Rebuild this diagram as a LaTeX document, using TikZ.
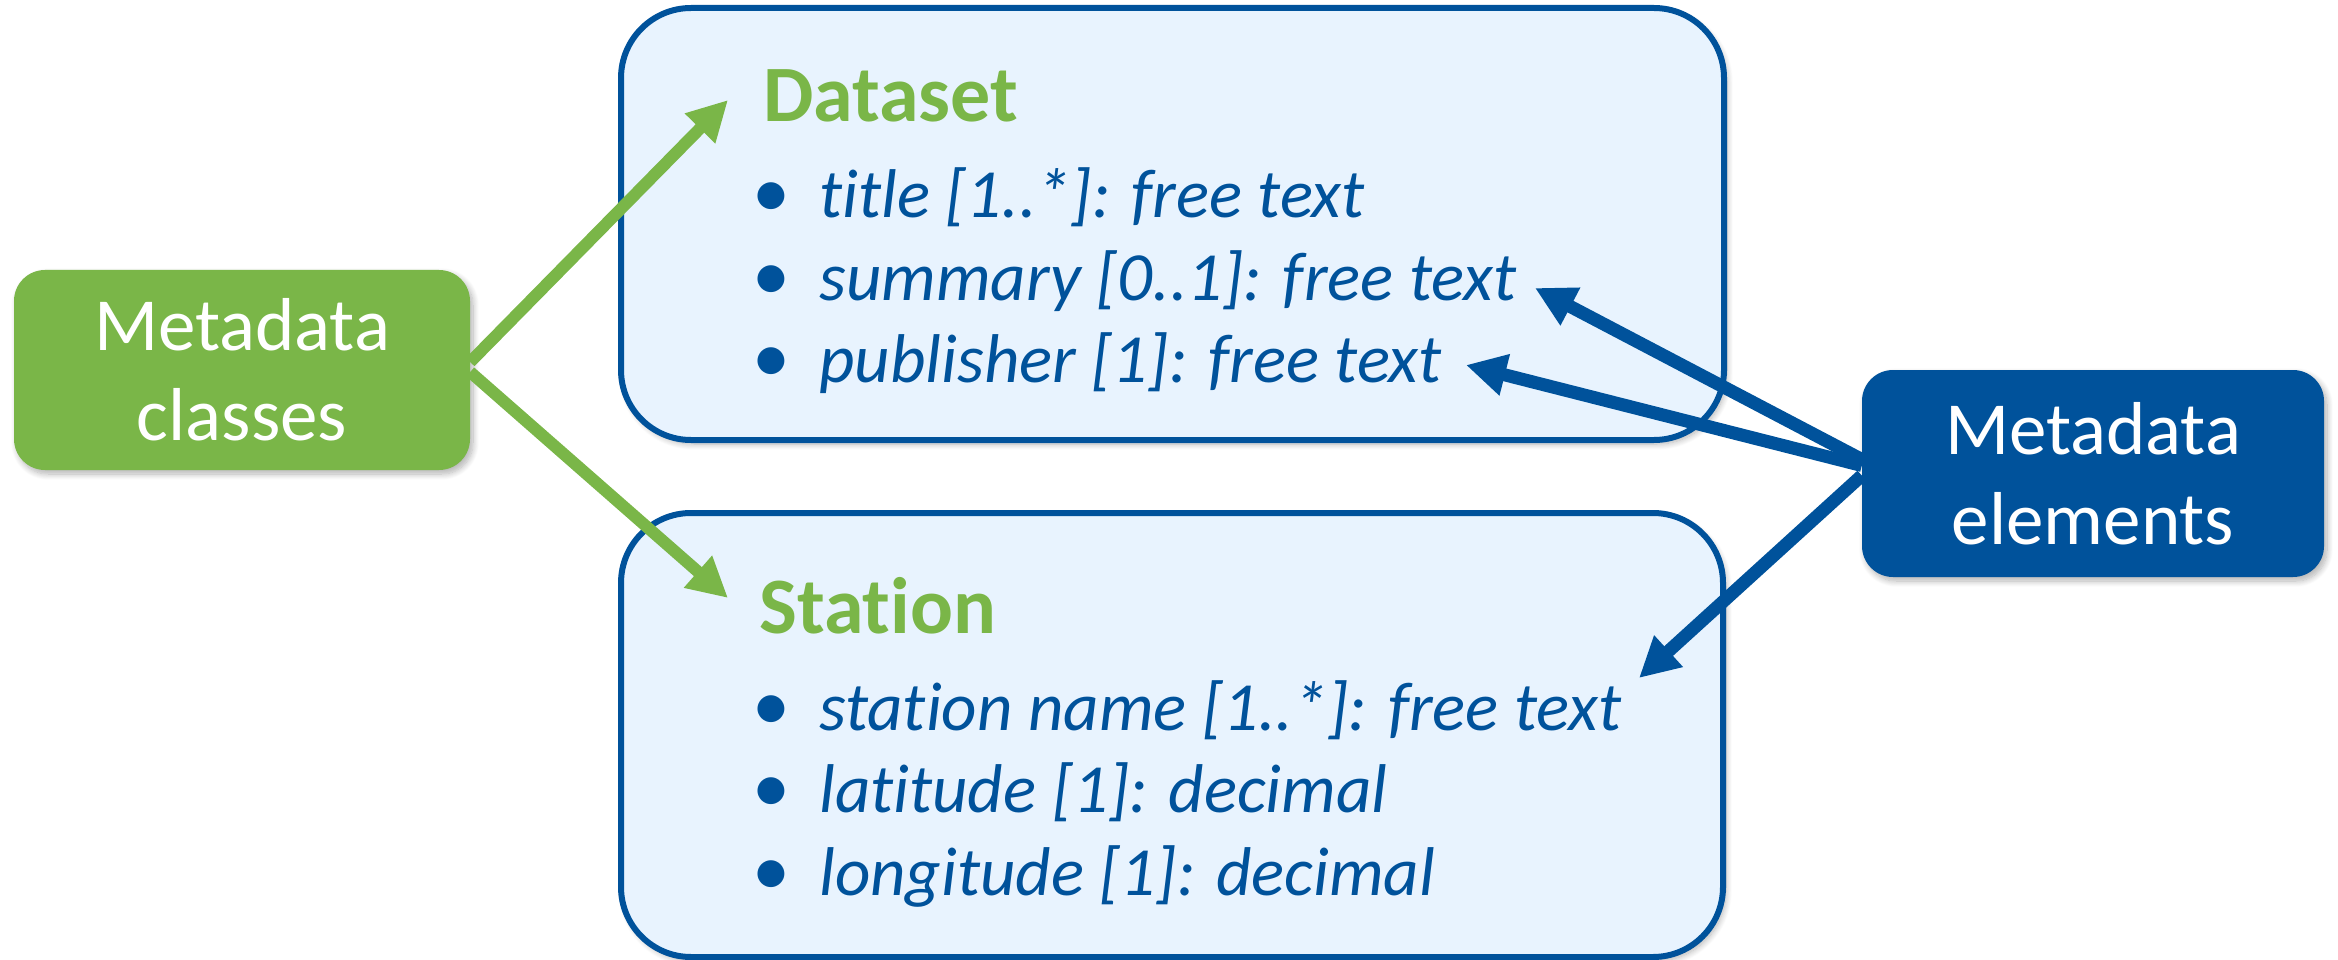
\documentclass[tikz,border=0pt]{standalone}
\usepackage{fontspec}
\setmainfont{Carlito}[Ligatures=NoCommon]
\usetikzlibrary{arrows.meta,shadows.blur}

\definecolor{mdgreen}{RGB}{122,182,72}
\definecolor{mdblue}{RGB}{0,82,155}
\definecolor{mdfill}{RGB}{232,243,254}

\tikzset{
  softshadow/.style={blur shadow={shadow xshift=3pt,shadow yshift=-4pt,
      shadow blur radius=6pt,shadow blur steps=10,shadow opacity=30}},
  classbox/.style={draw=mdblue,line width=6pt,fill=mdfill,
      rounded corners=70pt,inner sep=0pt,softshadow},
  tagbox/.style={rounded corners=31pt,inner sep=0pt,text=white,align=center,
      font=\fontsize{75}{90}\selectfont,softshadow},
  heading/.style={anchor=base west,inner sep=0pt,text=mdgreen,
      font=\fontsize{80}{96}\selectfont\bfseries},
  bulletmark/.style={anchor=base,inner sep=0pt,text=mdblue,
      font=\fontsize{76}{82}\selectfont},
  itemtext/.style={anchor=base west,inner sep=0pt,text=mdblue,
      font=\fontsize{69}{82}\selectfont\itshape},
  gconn/.style={draw=mdgreen,line width=12pt,
      -{Triangle[length=40pt,width=40pt]}},
  bconn/.style={draw=mdblue,line width=13pt,
      -{Triangle[length=40pt,width=40pt]}},
}

\begin{document}
\begin{tikzpicture}[x=1pt,y=-1pt]
\useasboundingbox (0,0) rectangle (2338,960);

% class boxes
\node[classbox,minimum width=1103pt,minimum height=432pt] (dbox) at (1172.5,224) {};
\node[classbox,minimum width=1102pt,minimum height=444pt] (sbox) at (1172,735) {};

% tag boxes
\node[tagbox,fill=mdgreen,minimum width=456pt,minimum height=200pt] (gbox) at (242,370) {Metadata\\classes};
\node[tagbox,fill=mdblue,minimum width=462pt,minimum height=207pt] (ebox) at (2093,473.5) {Metadata\\elements};

% Dataset class
\node[heading] (dtitle) at (763,122) {Dataset};
\node[bulletmark] (db1) at (771,218) {•};
\node[itemtext] (dtitleitem) at (819,218) {title [1..*]: free text};
\node[bulletmark] (db2) at (771,300) {•};
\node[itemtext] (dsummary) at (819,300) {summary [0..1]: free text};
\node[bulletmark] (db3) at (771,382) {•};
\node[itemtext] (dpublisher) at (819,382) {publisher [1]: free text};

% Station class
\node[heading] (stitle) at (759,633) {Station};
\node[bulletmark] (sb1) at (771,730) {•};
\node[itemtext] (sname) at (819,730) {station name [1..*]: free text};
\node[bulletmark] (sb2) at (771,812) {•};
\node[itemtext] (slat) at (819,812) {latitude [1]: decimal};
\node[bulletmark] (sb3) at (771,895) {•};
\node[itemtext] (slon) at (819,895) {longitude [1]: decimal};

% arrow tips
\coordinate (gt1) at (728,100);
\coordinate (gt2) at (728,598);
\coordinate (bt1) at (1535,288);
\coordinate (bt2) at (1466,365);
\coordinate (bt3) at (1639,678);

% connectors
\draw[gconn] ([yshift=8pt]gbox.east) -- (gt1);
\draw[gconn] ([yshift=-2pt]gbox.east) -- (gt2);
\draw[bconn] ([yshift=14pt]ebox.west) -- (bt1);
\draw[bconn] ([yshift=8pt]ebox.west) -- (bt2);
\draw[bconn] ([yshift=-2pt]ebox.west) -- (bt3);
\end{tikzpicture}
\end{document}
